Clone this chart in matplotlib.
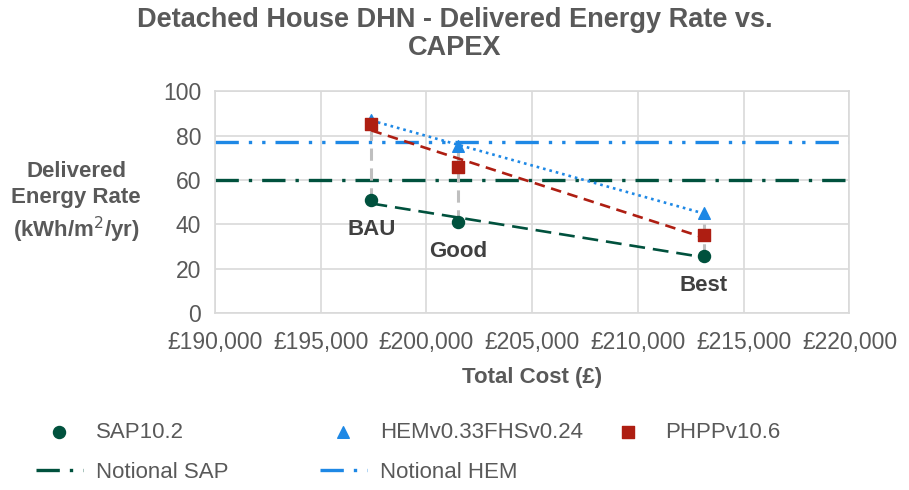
import matplotlib
matplotlib.use("Agg")
import matplotlib.pyplot as plt
from matplotlib.ticker import FuncFormatter, MultipleLocator
import numpy as np

plt.rcParams['font.family'] = ['Liberation Sans', 'DejaVu Sans']

# data
cost = [197400, 201500, 213100]
case_labels = ["BAU", "Good", "Best"]
sap = [50.9, 41.0, 25.7]
hem = [87.0, 75.5, 45.0]
phpp = [85.0, 66.0, 35.0]
notional_sap = 60.0
notional_hem = 77.0

c_sap = "#00513D"
c_hem = "#1E88E5"
c_phpp = "#AE1E12"
c_text = "#595959"

fig = plt.figure(figsize=(9.09, 4.90), dpi=100)
ax = fig.add_axes([0.2365, 0.361, 0.698, 0.453])

ax.set_xlim(190000, 220000)
ax.set_ylim(0, 100)
ax.xaxis.set_major_locator(MultipleLocator(5000))
ax.yaxis.set_major_locator(MultipleLocator(20))
ax.xaxis.set_major_formatter(FuncFormatter(lambda v, p: "£{:,.0f}".format(v)))
ax.grid(True, color="#D9D9D9", linewidth=1.2)
ax.set_axisbelow(True)
for s in ax.spines.values():
    s.set_color("#D9D9D9")
    s.set_linewidth(1.2)
ax.tick_params(length=0, labelsize=16.5, labelcolor=c_text)
ax.tick_params(axis="x", pad=13)
ax.tick_params(axis="y", pad=10)

# notional lines
ax.axhline(notional_sap, color=c_sap, linewidth=2.4, dashes=(7, 3, 1, 3))
ax.axhline(notional_hem, color=c_hem, linewidth=2.4, dashes=(7, 3, 1, 3, 1, 3))

# high-low lines
for x, a, b, c in zip(cost, sap, hem, phpp):
    ax.plot([x, x], [min(a, b, c), max(a, b, c)], color="#BFBFBF",
            linewidth=2.2, dashes=(4, 2.5), zorder=2)

# linear trendlines
xs = np.array([min(cost), max(cost)])
for vals, col, dash in [(sap, c_sap, (6, 3)), (phpp, c_phpp, (4, 2.5)), (hem, c_hem, (1, 1.5))]:
    k, m = np.polyfit(cost, vals, 1)
    ax.plot(xs, k * xs + m, color=col, linewidth=1.9, dashes=dash, zorder=3)

ax.scatter(cost, sap, marker="o", s=75, color=c_sap, zorder=4)
ax.scatter(cost, hem, marker="^", s=70, color=c_hem, zorder=4)
ax.scatter(cost, phpp, marker="s", s=65, color=c_phpp, zorder=4)

for x, y, lab in zip(cost, sap, case_labels):
    ax.annotate(lab, (x, y), xytext=(0, -21), textcoords="offset points",
                ha="center", va="center", fontsize=16, fontweight="bold", color="#404040")

ax.set_xlabel("Total Cost (£)", fontsize=16, fontweight="bold", color=c_text, labelpad=9)
fig.text(76 / 909, 1 - 203 / 490, "Delivered\nEnergy Rate\n(kWh/m$^2$/yr)", ha="center",
         va="center", fontsize=16, fontweight="bold", color=c_text, linespacing=1.3)

fig.text(0.5, 1 - 34 / 490, "Detached House DHN - Delivered Energy Rate vs.\nCAPEX",
         ha="center", va="center", fontsize=19.5, fontweight="bold", color=c_text, linespacing=1.1)

# legend, built as three columns like the original
h1 = ax.scatter([], [], marker="o", s=75, color=c_sap)
h2 = ax.scatter([], [], marker="^", s=70, color=c_hem)
h3 = ax.scatter([], [], marker="s", s=65, color=c_phpp)
h4, = ax.plot([], [], color=c_sap, linewidth=2.4, dashes=(7, 3, 1, 3))
h5, = ax.plot([], [], color=c_hem, linewidth=2.4, dashes=(7, 3, 1, 3, 1, 3))

leg_kw = dict(loc="upper left", frameon=False, fontsize=16, labelcolor=c_text,
              handlelength=2.1, handletextpad=0.6, labelspacing=0.85,
              borderpad=0, borderaxespad=0)
top = 1 - 422 / 490
legs = [
    fig.legend([h1, h4], ["SAP10.2", "Notional SAP"], bbox_to_anchor=(36 / 909, top), **leg_kw),
    fig.legend([h2, h5], ["HEMv0.33FHSv0.24", "Notional HEM"], bbox_to_anchor=(320 / 909, top), **leg_kw),
    fig.legend([h3], ["PHPPv10.6"], bbox_to_anchor=(605 / 909, top), **leg_kw),
]

fig.savefig("out.png", dpi=100)
